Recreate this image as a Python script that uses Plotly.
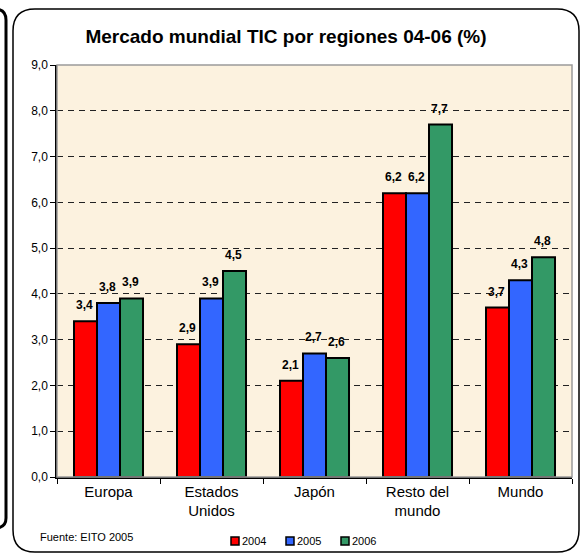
import plotly.graph_objects as go

regiones = ["Europa", "Estados<br>Unidos", "Japón", "Resto del<br>mundo", "Mundo"]
anios = ["2004", "2005", "2006"]
v2004 = [3.4, 2.9, 2.1, 6.2, 3.7]
v2005 = [3.8, 3.9, 2.7, 6.2, 4.3]
v2006 = [3.9, 4.5, 2.6, 7.7, 4.8]
colores = ["#FF0000", "#3366FF", "#339966"]

W, H = 582, 555
L, R, T, B = 57, 10, 65, 78
FONT = "Liberation Sans, Arial, sans-serif"
BARW = 23  # ancho aproximado de cada barra en px, para situar las etiquetas


def px(x):
    return (x - L) / (W - L - R)


def py(y):
    return (H - B - y) / (H - T - B)


def rounded(x0, y0, x1, y1, r):
    # rectangulo redondeado en coordenadas de pixel -> paper
    return (f"M{px(x0 + r)},{py(y0)} L{px(x1 - r)},{py(y0)} "
            f"Q{px(x1)},{py(y0)} {px(x1)},{py(y0 + r)} "
            f"L{px(x1)},{py(y1 - r)} Q{px(x1)},{py(y1)} {px(x1 - r)},{py(y1)} "
            f"L{px(x0 + r)},{py(y1)} Q{px(x0)},{py(y1)} {px(x0)},{py(y1 - r)} "
            f"L{px(x0)},{py(y0 + r)} Q{px(x0)},{py(y0)} {px(x0 + r)},{py(y0)} Z")


fig = go.Figure()
annotations = []
for i, (anio, vals, col) in enumerate(zip(anios, [v2004, v2005, v2006], colores)):
    fig.add_trace(go.Bar(
        x=regiones, y=vals, name=anio, showlegend=False,
        marker=dict(color=col, line=dict(color="black", width=2)),
    ))
    # etiquetas de valor, algo separadas de la barra como en el original
    for reg, v in zip(regiones, vals):
        annotations.append(dict(
            x=reg, y=v, xref="x", yref="y", text=f"<b>{v:.1f}</b>".replace(".", ","),
            showarrow=False, xshift=(i - 1) * BARW - 1, yshift=16, yanchor="middle",
            font=dict(size=12, color="black")))

shapes = [
    # caja principal
    dict(type="path", xref="paper", yref="paper", path=rounded(13, 9, 579, 552, 22),
         line=dict(color="black", width=1.5), layer="below"),
    # borde gris del area de trazado
    dict(type="rect", xref="paper", yref="paper", x0=0, y0=0, x1=1, y1=1,
         line=dict(color="#9A9A9A", width=1.5), layer="above"),
    # caja vecina a la izquierda
    dict(type="path", xref="paper", yref="paper",
         path=(f"M{px(-5)},{py(9)} Q{px(6)},{py(9)} {px(6)},{py(20)} "
               f"L{px(6)},{py(518)} Q{px(6)},{py(528)} {px(-5)},{py(528)}"),
         line=dict(color="black", width=3)),
]
annotations.append(dict(text="Fuente: EITO 2005", xref="paper", yref="paper",
                        x=px(38), y=py(537), xanchor="left", yanchor="middle",
                        showarrow=False, font=dict(size=11)))

# leyenda dibujada a mano (cuadritos pequenos pegados al texto)
for i, (anio, col) in enumerate(zip(anios, colores)):
    x0 = 231 + 55 * i
    shapes.append(dict(type="rect", xref="paper", yref="paper",
                       x0=px(x0), x1=px(x0 + 8), y0=py(545), y1=py(537),
                       fillcolor=col, line=dict(color="black", width=1.5)))
    annotations.append(dict(text=anio, xref="paper", yref="paper",
                            x=px(x0 + 9), y=py(541), xanchor="left", yanchor="middle",
                            showarrow=False, font=dict(size=11)))

fig.update_layout(
    width=W, height=H,
    margin=dict(l=L, r=R, t=T, b=B, autoexpand=False),
    paper_bgcolor="white",
    plot_bgcolor="#FCF2DF",
    barmode="group", bargap=0.33, bargroupgap=0,
    font=dict(family=FONT, color="black"),
    separators=",.",
    title=dict(text="<b>Mercado mundial TIC por regiones 04-06 (%)</b>",
               x=px(286), xanchor="center", xref="paper", y=1 - 36 / H, yanchor="middle",
               font=dict(size=19, family=FONT)),
    shapes=shapes,
    annotations=annotations,
)
fig.update_yaxes(range=[0, 9], dtick=1, tickformat=".1f", automargin=False,
                 showgrid=True, gridcolor="#222222", gridwidth=1, griddash="6px,5px",
                 showline=True, linecolor="black", linewidth=1.5,
                 ticks="outside", ticklen=5, tickcolor="black",
                 tickfont=dict(size=12), zeroline=False)
fig.update_xaxes(showline=True, linecolor="black", linewidth=1.5, automargin=False,
                 ticks="outside", tickson="boundaries", ticklen=5, tickcolor="black",
                 tickfont=dict(size=15))

fig.write_html("out.html", config={"displayModeBar": False},
               post_script="document.body.style.margin='0';")
